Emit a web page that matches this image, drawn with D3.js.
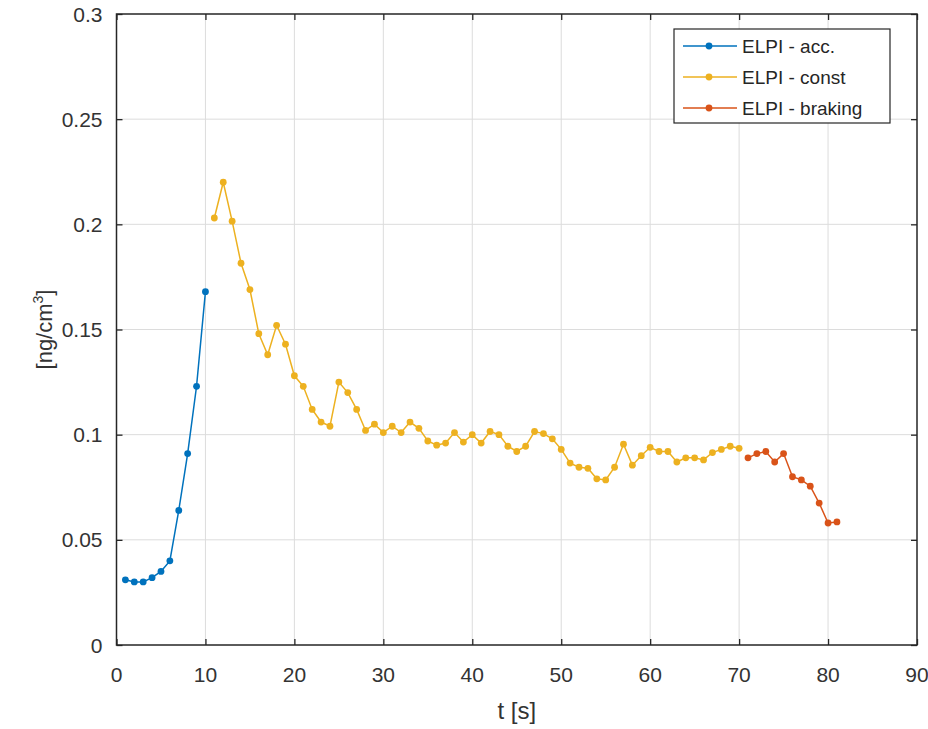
<!DOCTYPE html>
<html>
<head>
<meta charset="utf-8">
<script src="https://cdn.jsdelivr.net/npm/d3@7"></script>
<style>
  body { margin: 0; background: #fff; }
  svg { display: block; font-family: 'Liberation Sans', Arial, sans-serif; }
  .tick-label { fill: #333; font-size: 21px; }
  .grid line { stroke: #dcdcdc; stroke-width: 1; }
</style>
</head>
<body>
<div class="container"></div>
<script>
//Size of the page
const width = 928,
      height = 729;

//Data
const accT = [1, 2, 3, 4, 5, 6, 7, 8, 9, 10];
const accV = [0.031, 0.030, 0.030, 0.032, 0.035, 0.040, 0.064, 0.091, 0.123, 0.168];

const constT = [11, 12, 13, 14, 15, 16, 17, 18, 19, 20,
                21, 22, 23, 24, 25, 26, 27, 28, 29, 30,
                31, 32, 33, 34, 35, 36, 37, 38, 39, 40,
                41, 42, 43, 44, 45, 46, 47, 48, 49, 50,
                51, 52, 53, 54, 55, 56, 57, 58, 59, 60,
                61, 62, 63, 64, 65, 66, 67, 68, 69, 70];
const constV = [0.203, 0.220, 0.2015, 0.1815, 0.169, 0.148, 0.138, 0.152, 0.143, 0.128,
                0.123, 0.112, 0.106, 0.104, 0.125, 0.120, 0.112, 0.102, 0.105, 0.101,
                0.104, 0.101, 0.106, 0.103, 0.097, 0.095, 0.096, 0.101, 0.0965, 0.100,
                0.096, 0.1015, 0.100, 0.0945, 0.092, 0.0945, 0.1015, 0.1005, 0.098, 0.093,
                0.0865, 0.0845, 0.084, 0.079, 0.0785, 0.0845, 0.0955, 0.0855, 0.090, 0.094,
                0.092, 0.092, 0.087, 0.089, 0.089, 0.088, 0.0915, 0.093, 0.0945, 0.0935];

const brakeT = [71, 72, 73, 74, 75, 76, 77, 78, 79, 80, 81];
const brakeV = [0.089, 0.091, 0.092, 0.087, 0.091, 0.080, 0.0785, 0.0755, 0.0675, 0.058, 0.0585];

const xTicks = [0, 10, 20, 30, 40, 50, 60, 70, 80, 90];
const yTicks = [0, 0.05, 0.1, 0.15, 0.2, 0.25, 0.3];

const seriesNames = ['ELPI - acc.', 'ELPI - const', 'ELPI - braking'];
const seriesColors = ['#0072BD', '#EDB120', '#D95319'];

//Plot area
const plotLeft = 116.5,
      plotRight = 917,
      plotTop = 14,
      plotBottom = 645;

var x = d3.scaleLinear().domain([0, 90]).range([plotLeft, plotRight]);
var y = d3.scaleLinear().domain([0, 0.3]).range([plotBottom, plotTop]);

var svg = d3.select('.container')
            .append('svg')
            .attr('width', width)
            .attr('height', height);

//Grid lines
var grid = svg.append('g').attr('class', 'grid');
grid.selectAll('.gx')
    .data(xTicks.slice(1, -1))
    .enter()
    .append('line')
    .attr('x1', d => x(d)).attr('x2', d => x(d))
    .attr('y1', plotTop).attr('y2', plotBottom);
grid.selectAll('.gy')
    .data(yTicks.slice(1, -1))
    .enter()
    .append('line')
    .attr('x1', plotLeft).attr('x2', plotRight)
    .attr('y1', d => y(d)).attr('y2', d => y(d));

//Axes (ticks pointing inside, box all round)
function styleAxis(g) {
  g.selectAll('.domain').remove();
  g.selectAll('.tick line').attr('stroke', '#262626').attr('stroke-width', 1.3);
}
svg.append('g')
   .attr('transform', 'translate(0,' + plotBottom + ')')
   .call(d3.axisTop(x).tickValues(xTicks).tickSize(6).tickFormat(''))
   .call(styleAxis);
svg.append('g')
   .attr('transform', 'translate(0,' + plotTop + ')')
   .call(d3.axisBottom(x).tickValues(xTicks).tickSize(6).tickFormat(''))
   .call(styleAxis);
svg.append('g')
   .attr('transform', 'translate(' + plotLeft + ',0)')
   .call(d3.axisRight(y).tickValues(yTicks).tickSize(6).tickFormat(''))
   .call(styleAxis);
svg.append('g')
   .attr('transform', 'translate(' + plotRight + ',0)')
   .call(d3.axisLeft(y).tickValues(yTicks).tickSize(6).tickFormat(''))
   .call(styleAxis);

svg.append('rect')
   .attr('x', plotLeft).attr('y', plotTop)
   .attr('width', plotRight - plotLeft).attr('height', plotBottom - plotTop)
   .attr('fill', 'none')
   .attr('stroke', '#262626')
   .attr('stroke-width', 1.5);

//Tick labels
svg.selectAll('.xl')
   .data(xTicks)
   .enter()
   .append('text')
   .attr('class', 'tick-label')
   .attr('x', d => x(d))
   .attr('y', 682)
   .style('text-anchor', 'middle')
   .text(d => d);
svg.selectAll('.yl')
   .data(yTicks)
   .enter()
   .append('text')
   .attr('class', 'tick-label')
   .attr('x', plotLeft - 14)
   .attr('y', d => y(d) + 7.5)
   .style('text-anchor', 'end')
   .text(d => d3.format('~g')(d));

//Axis titles
svg.append('text')
   .attr('x', (plotLeft + plotRight) / 2)
   .attr('y', 719)
   .style('text-anchor', 'middle')
   .style('font-size', '24px')
   .attr('fill', '#333')
   .text('t [s]');

var yLabel = svg.append('text')
   .attr('transform', 'translate(52,' + ((plotTop + plotBottom) / 2) + ') rotate(-90)')
   .style('text-anchor', 'middle')
   .style('font-size', '22px')
   .attr('fill', '#333');
yLabel.append('tspan').text('[ng/cm');
yLabel.append('tspan').attr('dy', -9).style('font-size', '14px').text('3');
yLabel.append('tspan').attr('dy', 9).text(']');

//Series
var series = [
  { t: accT, v: accV },
  { t: constT, v: constV },
  { t: brakeT, v: brakeV }
];

var line = d3.line()
             .x(d => x(d[0]))
             .y(d => y(d[1]));

series.forEach(function (s, i) {
  var pts = s.t.map(function (t, j) { return [t, s.v[j]]; });
  svg.append('path')
     .datum(pts)
     .attr('d', line)
     .attr('fill', 'none')
     .attr('stroke', seriesColors[i])
     .attr('stroke-width', 1.5);
  svg.append('g')
     .selectAll('circle')
     .data(pts)
     .enter()
     .append('circle')
     .attr('cx', d => x(d[0]))
     .attr('cy', d => y(d[1]))
     .attr('r', 3.4)
     .attr('fill', seriesColors[i]);
});

//Legend
var legend = svg.append('g').attr('transform', 'translate(674,29)');
legend.append('rect')
      .attr('width', 216)
      .attr('height', 94)
      .attr('fill', '#fff')
      .attr('stroke', '#262626')
      .attr('stroke-width', 1.2);
var rows = legend.selectAll('.row')
      .data(seriesNames)
      .enter()
      .append('g')
      .attr('transform', (d, i) => 'translate(0,' + (17 + i * 31) + ')');
rows.append('line')
    .attr('x1', 9).attr('x2', 63)
    .attr('stroke', (d, i) => seriesColors[i])
    .attr('stroke-width', 1.5);
rows.append('circle')
    .attr('cx', 35)
    .attr('r', 3.4)
    .attr('fill', (d, i) => seriesColors[i]);
rows.append('text')
    .attr('x', 68)
    .attr('y', 7)
    .style('font-size', '19px')
    .attr('fill', '#262626')
    .text(d => d);
</script>
</body>
</html>
